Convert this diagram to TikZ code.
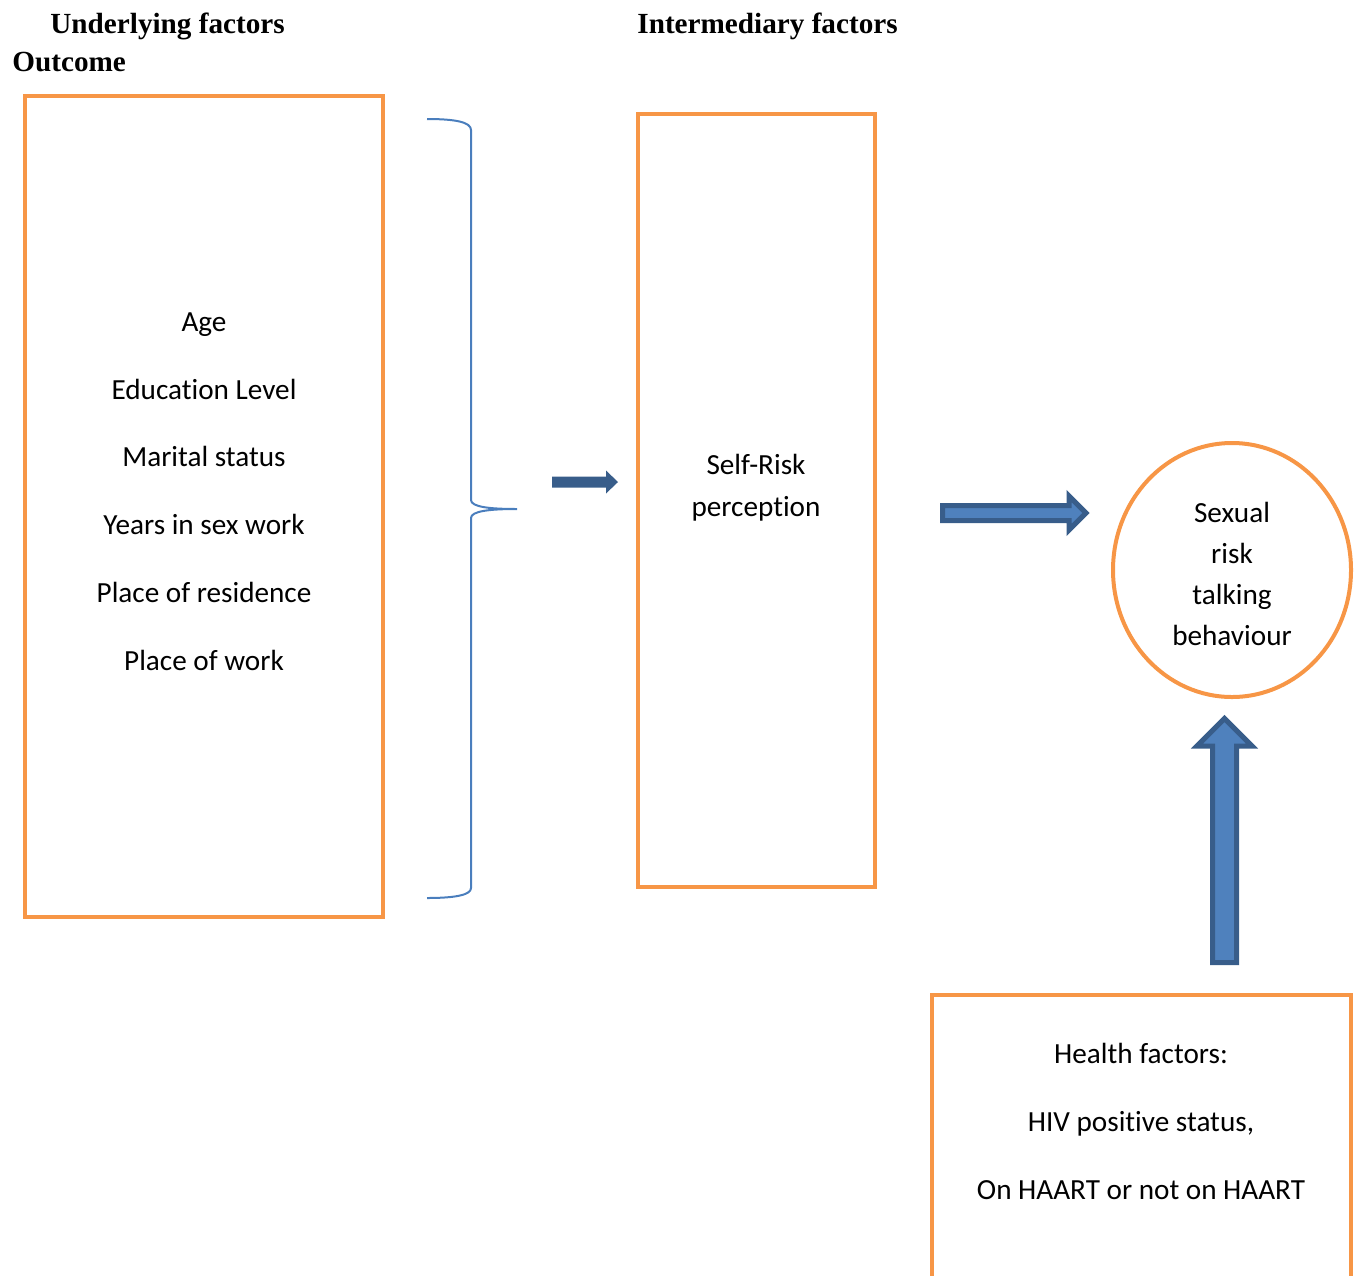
\documentclass[tikz,border=0pt]{standalone}
\usepackage{fontspec}
\setmainfont{Carlito}[Ligatures=NoCommon]
\newfontfamily\headfont{Liberation Serif}
\usetikzlibrary{shapes.geometric}

\definecolor{boxorange}{HTML}{F79646}
\definecolor{arrowfill}{HTML}{4F81BD}
\definecolor{arrowline}{HTML}{385D8A}
\definecolor{bracecol}{HTML}{4A7EBD}

\tikzset{
  factorbox/.style={draw=boxorange, line width=2pt, inner sep=0pt},
  itemtext/.style={font=\fontsize{14.6}{17}\selectfont, anchor=mid},
  headtext/.style={font=\fontsize{14.6}{17}\selectfont\headfont\bfseries, anchor=base west, inner sep=0pt},
  fatarrow/.style={fill=arrowfill, draw=arrowline, line width=2.5pt, line join=miter},
}

\begin{document}
\begin{tikzpicture}[x=0.5pt, y=-0.5pt]
% Page frame (pixel units of the reference)
\clip (0,0) rectangle (1364,1275);

% Headings
\node[headtext] (hunder) at (50,33) {Underlying factors};
\node[headtext] (hout) at (12,71) {Outcome};
\node[headtext] (hinter) at (637,33) {Intermediary factors};

% Boxes
\node[factorbox, minimum width=179pt, minimum height=410.5pt] (under) at (204,506.5) {};
\node[factorbox, minimum width=118.5pt, minimum height=386.5pt] (inter) at (756.5,500.5) {};
\node[factorbox, ellipse, minimum width=119pt, minimum height=127pt] (outc) at (1232,570) {};
\node[factorbox, minimum width=209.5pt, minimum height=152.5pt] (health) at (1141.5,1147.5) {};

% Underlying factors
\foreach \txt/\yy [count=\i] in {Age/327, Education Level/395, Marital status/462,
    Years in sex work/530, Place of residence/598, Place of work/666}
  \node[itemtext] (item\i) at (204,\yy) {\txt};

% Intermediary factor
\node[itemtext] (self1) at (756,470) {Self-Risk};
\node[itemtext] (self2) at (756,512) {perception};

% Outcome
\node[itemtext] (out1) at (1232,518) {Sexual};
\node[itemtext] (out2) at (1232,559) {risk};
\node[itemtext] (out3) at (1232,600) {talking};
\node[itemtext] (out4) at (1232,641) {behaviour};

% Health factors
\node[itemtext] (hf1) at (1141,1059) {Health factors:};
\node[itemtext] (hf2) at (1141,1127) {HIV positive status,};
\node[itemtext] (hf3) at (1141,1195) {On HAART or not on HAART};

% Brace
\draw[bracecol, line width=1pt] (427,119) .. controls (455,119) and (471,122) .. (471,130)
  -- (471,500) .. controls (471,507) and (490,509) .. (517,509)
  .. controls (490,509) and (471,511) .. (471,518)
  -- (471,888) .. controls (471,895) and (455,898) .. (427,898);

% Arrows
\fill[arrowline] (552,476.5) -- (606,476.5) -- (606,470.5) -- (618,482)
  -- (606,493.5) -- (606,487.5) -- (552,487.5) -- cycle;
\draw[fatarrow] (942.5,505.5) -- (1069,505.5) -- (1069,496) -- (1086,513)
  -- (1069,530) -- (1069,520.5) -- (942.5,520.5) -- cycle;
\draw[fatarrow] (1212.5,962.5) -- (1212.5,746) -- (1197,746) -- (1224.5,718.5)
  -- (1252,746) -- (1236.5,746) -- (1236.5,962.5) -- cycle;
\end{tikzpicture}
\end{document}
